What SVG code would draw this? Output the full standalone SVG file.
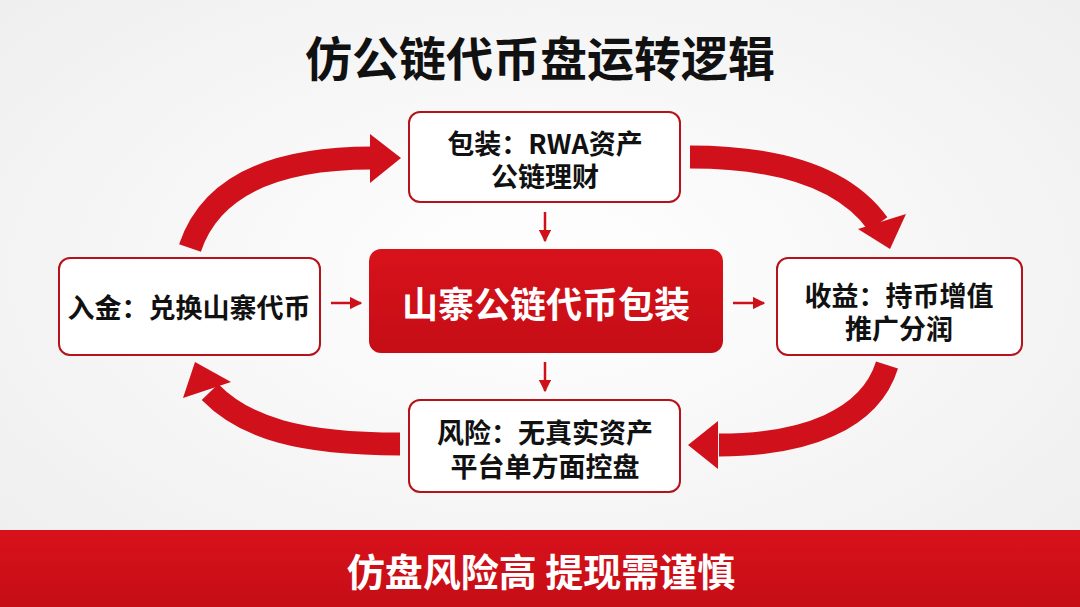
<svg xmlns="http://www.w3.org/2000/svg" width="1080" height="607" viewBox="0 0 1080 607">
<defs>
<radialGradient id="bg" cx="50%" cy="45%" r="70%">
<stop offset="0" stop-color="#ffffff"/>
<stop offset="1" stop-color="#eeeeee"/>
</radialGradient>
<linearGradient id="redg" x1="0" y1="0" x2="0" y2="1">
<stop offset="0" stop-color="#d8121b"/>
<stop offset="1" stop-color="#c50d16"/>
</linearGradient>
<marker id="sm" viewBox="0 0 10 10" refX="9" refY="5" markerWidth="5" markerHeight="5" orient="auto" markerUnits="strokeWidth">
<path d="M0,0 L10,5 L0,10 z" fill="#cc1118"/>
</marker>
</defs>
<style>
.box{fill:#ffffff;stroke:#b5121b;stroke-width:2}
.t{font-family:"Noto Sans CJK SC","Noto Sans",sans-serif;font-weight:700;fill:#111;text-anchor:middle;dominant-baseline:central}
.w{fill:#ffffff}
.big{fill:none;stroke:#d0101a;stroke-width:23}
.head{fill:#d0101a}
.small{stroke:#cc1118;stroke-width:2.5;fill:none}
</style>
<rect width="1080" height="607" fill="url(#bg)"/>
<text class="t" x="540" y="55" font-size="47" font-weight="900">仿公链代币盘运转逻辑</text>

<g id="connectors">
<path class="big" d="M190,248 C210,188 270,158 372,158"/>
<polygon class="head" points="370,134 401,158 370,183"/>
<path class="big" d="M690,157 C780,157 845,178 878,224"/>
<polygon class="head" points="858,229 890,249 906,214"/>
<path class="big" d="M887,365 C870,420 805,445 719,445"/>
<polygon class="head" points="718,421 688,445 718,469"/>
<path class="big" d="M400,444 C300,444 245,428 210,392"/>
<polygon class="head" points="183,398 195,362 231,382"/>
<path class="small" d="M545,212 L545,241" marker-end="url(#sm)"/>
<path class="small" d="M545,362 L545,391" marker-end="url(#sm)"/>
<path class="small" d="M331,303 L361,303" marker-end="url(#sm)"/>
<path class="small" d="M733,303 L764,303" marker-end="url(#sm)"/>
</g>

<g id="top">
<rect class="box" x="409" y="112" width="271" height="90" rx="11"/>
<text class="t" x="545" y="142" font-size="27">包装：RWA资产</text>
<text class="t" x="545" y="175" font-size="27">公链理财</text>
</g>
<g id="left">
<rect class="box" x="59" y="258" width="261" height="97" rx="11"/>
<text class="t" x="189" y="306" font-size="27">入金：兑换山寨代币</text>
</g>
<g id="center">
<rect x="369" y="249" width="354" height="104" rx="12" fill="url(#redg)"/>
<text class="t w" x="546" y="302" font-size="36">山寨公链代币包装</text>
</g>
<g id="right">
<rect class="box" x="777" y="258" width="245" height="97" rx="11"/>
<text class="t" x="899" y="294" font-size="27">收益：持币增值</text>
<text class="t" x="899" y="327" font-size="27">推广分润</text>
</g>
<g id="bottom">
<rect class="box" x="409" y="400" width="271" height="92" rx="11"/>
<text class="t" x="545" y="431" font-size="27">风险：无真实资产</text>
<text class="t" x="545" y="465" font-size="27">平台单方面控盘</text>
</g>
<g id="banner">
<rect x="0" y="530" width="1080" height="77" fill="url(#redg)"/>
<text class="t w" x="541" y="569" font-size="38" font-weight="900">仿盘风险高 提现需谨慎</text>
</g>
</svg>
